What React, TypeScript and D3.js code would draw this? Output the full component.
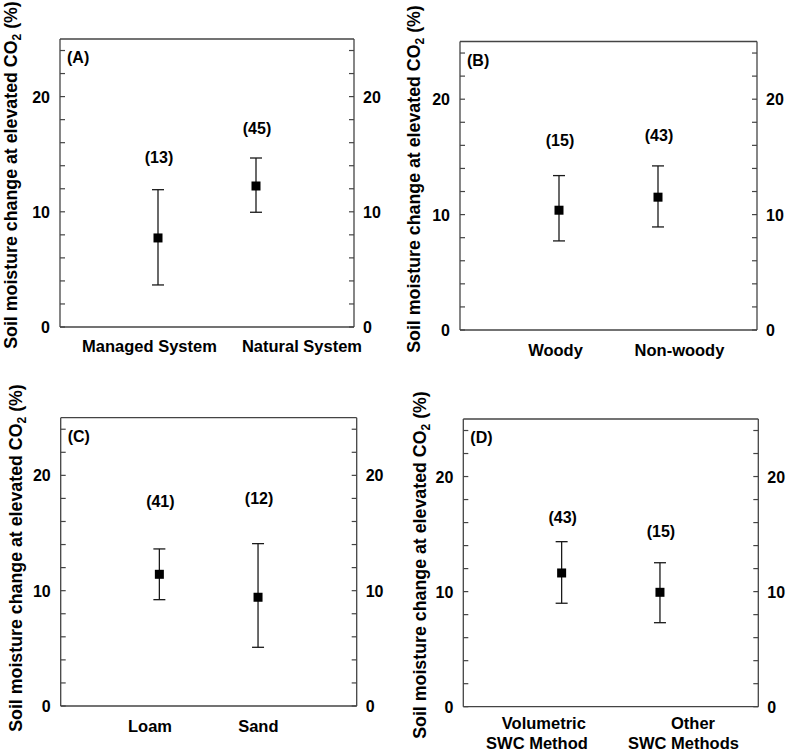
import React from "react";
import * as d3 from "d3";

// ---- data ----
const panelTags = ["(A)", "(B)", "(C)", "(D)"];

const categoriesA = [["Managed System"], ["Natural System"]];
const categoriesB = [["Woody"], ["Non-woody"]];
const categoriesC = [["Loam"], ["Sand"]];
const categoriesD = [["Volumetric", "SWC Method"], ["Other", "SWC Methods"]];

const meanA = [7.73, 12.24];
const meanB = [10.38, 11.51];
const meanC = [11.42, 9.43];
const meanD = [11.62, 9.94];

const lowerA = [3.65, 9.96];
const lowerB = [7.72, 8.93];
const lowerC = [9.22, 5.09];
const lowerD = [8.99, 7.3];

const upperA = [11.92, 14.67];
const upperB = [13.38, 14.22];
const upperC = [13.62, 14.08];
const upperD = [14.34, 12.51];

const countsA = [13, 45];
const countsB = [15, 43];
const countsC = [41, 12];
const countsD = [43, 15];

// y (in data units) of the "(n)" annotations
const countAtA = [14.8, 17.3];
const countAtB = [16.5, 16.9];
const countAtC = [17.8, 18.0];
const countAtD = [16.5, 15.3];

const yTickLabels = [0, 10, 20];
const yMinorTicks = d3.range(0, 25, 2);

// ---- layout (pixels) ----
const LAYOUT = [
  { left: 60, right: 354, top: 39, bottom: 327, titleX: 17, titleY: 175,
    labelX: [[0.913], [2.469]], labelY: 352 },
  { left: 460, right: 757, top: 41.5, bottom: 330, titleX: 419.5, titleY: 179,
    labelX: [[0.965], [2.217]], labelY: 356 },
  { left: 60.7, right: 356.7, top: 417.7, bottom: 706, titleX: 21.5, titleY: 558,
    labelX: [[0.905], [2.003]], labelY: 732 },
  { left: 463.3, right: 758.3, top: 419, bottom: 706.7, titleX: 426, titleY: 565,
    labelX: [[0.819, 0.749], [2.336, 2.239]], labelY: 729 },
];

const PANELS = [
  { cats: categoriesA, mean: meanA, lo: lowerA, hi: upperA, n: countsA, nAt: countAtA },
  { cats: categoriesB, mean: meanB, lo: lowerB, hi: upperB, n: countsB, nAt: countAtB },
  { cats: categoriesC, mean: meanC, lo: lowerC, hi: upperC, n: countsC, nAt: countAtC },
  { cats: categoriesD, mean: meanD, lo: lowerD, hi: upperD, n: countsD, nAt: countAtD },
];

const FONT = "'Liberation Sans', Arial, Helvetica, sans-serif";
const FRAME = "#444";
const INK = "#1a1a1a";

function Panel({ idx }: { idx: number }) {
  const L = LAYOUT[idx];
  const P = PANELS[idx];
  const x = d3.scaleLinear().domain([0, 3]).range([L.left, L.right]);
  const y = d3.scaleLinear().domain([0, 25]).range([L.bottom, L.top]);
  const tickLen = 5;
  const sq = 9;
  const cap = 6;
  return (
    <g fontFamily={FONT} fontWeight="bold">
      {/* frame */}
      <line x1={L.left} x2={L.right} y1={L.top} y2={L.top} stroke={FRAME} strokeWidth={1.3} />
      <line x1={L.left} x2={L.right} y1={L.bottom} y2={L.bottom} stroke={FRAME} strokeWidth={1.3} />
      <line x1={L.left} x2={L.left} y1={L.top} y2={L.bottom} stroke={FRAME} strokeWidth={1.3} />
      <line x1={L.right} x2={L.right} y1={L.top} y2={L.bottom} stroke={FRAME} strokeWidth={1.3} />
      {/* ticks */}
      {yMinorTicks.map((t) => (
        <g key={t}>
          <line x1={L.left} x2={L.left + tickLen} y1={y(t)} y2={y(t)} stroke={FRAME} strokeWidth={1.2} />
          <line x1={L.right - tickLen} x2={L.right} y1={y(t)} y2={y(t)} stroke={FRAME} strokeWidth={1.2} />
        </g>
      ))}
      {yTickLabels.map((t) => (
        <g key={"l" + t} fontSize={16} fill="#000">
          <text x={L.left - 10} y={y(t) + 6} textAnchor="end">{t}</text>
          <text x={L.right + 9} y={y(t) + 6} textAnchor="start">{t}</text>
        </g>
      ))}
      {/* panel tag */}
      <text x={L.left + 7} y={L.top + 24} fontSize={16}>{panelTags[idx]}</text>
      {/* y title */}
      <text transform={`translate(${L.titleX},${L.titleY}) rotate(-90)`} textAnchor="middle" fontSize={17.8}>
        Soil moisture change at elevated CO
        <tspan dy={4} fontSize={12}>2</tspan>
        <tspan dy={-4}> (%)</tspan>
      </text>
      {/* error bars and points */}
      {P.mean.map((m, i) => {
        const cx = x(i + 1);
        return (
          <g key={"p" + i}>
            <line x1={cx} x2={cx} y1={y(P.lo[i])} y2={y(P.hi[i])} stroke={INK} strokeWidth={1.3} />
            <line x1={cx - cap} x2={cx + cap} y1={y(P.lo[i])} y2={y(P.lo[i])} stroke={INK} strokeWidth={1.3} />
            <line x1={cx - cap} x2={cx + cap} y1={y(P.hi[i])} y2={y(P.hi[i])} stroke={INK} strokeWidth={1.3} />
            <rect x={cx - sq / 2} y={y(m) - sq / 2} width={sq} height={sq} fill="#000" />
            <text x={cx + 1} y={y(P.nAt[i]) + 6} textAnchor="middle" fontSize={16}>({P.n[i]})</text>
          </g>
        );
      })}
      {/* category labels */}
      {P.cats.map((lines, i) => (
        <g key={"c" + i} fontSize={16.5}>
          {lines.map((s, j) => (
            <text key={j} x={x(L.labelX[i][j] ?? L.labelX[i][0])} y={L.labelY + j * 20} textAnchor="middle">{s}</text>
          ))}
        </g>
      ))}
    </g>
  );
}

export default function App() {
  return (
    <svg width={787} height={754} style={{ position: "absolute", left: 0, top: 0, background: "#fff" }}>
      <rect width={787} height={754} fill="#fff" />
      {[0, 1, 2, 3].map((i) => <Panel key={i} idx={i} />)}
    </svg>
  );
}
